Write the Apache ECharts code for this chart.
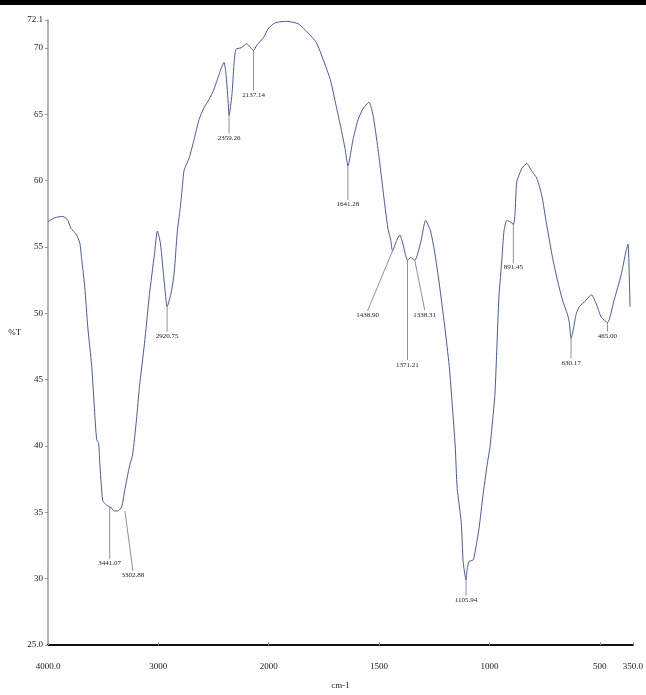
<!DOCTYPE html>
<html>
<head>
<meta charset="utf-8">
<title>FTIR spectrum</title>
<script src="https://cdn.jsdelivr.net/npm/echarts@6/dist/echarts.min.js"></script>
<style>
  html, body { margin: 0; padding: 0; background: #fff; width: 100%; height: 100%; overflow: hidden; }
  #chart { width: 100vw; height: 100vh; }
</style>
</head>
<body>
<div id="chart"></div>
<script>
// spectrum (wavenumber cm-1 / %T)
const wavenumbers = [
  4000, 3937, 3865, 3820, 3793, 3748, 3712, 3694, 3667, 3640, 3604, 3577, 3559, 3541, 3532,
  3505, 3478, 3441, 3420, 3400, 3369, 3333, 3306, 3261, 3234, 3198, 3171, 3126, 3081, 3036,
  3009, 2982, 2946, 2920, 2883, 2856, 2829, 2802, 2784, 2766, 2721, 2676, 2631, 2586, 2541,
  2495, 2450, 2405, 2387, 2369, 2359, 2333, 2315, 2297, 2252, 2198, 2137, 2108, 2045, 2000,
  1969, 1919, 1865, 1820, 1784, 1753, 1721, 1694, 1672, 1654, 1641, 1618, 1595, 1573, 1546,
  1528, 1505, 1483, 1460, 1447, 1439, 1420, 1406, 1393, 1371, 1357, 1338, 1312, 1289, 1267,
  1249, 1227, 1204, 1182, 1168, 1155, 1146, 1128, 1119, 1106, 1101, 1092, 1074, 1065, 1047,
  1029, 1011, 997, 984, 975, 966, 957, 943, 934, 921, 907, 891, 884, 876, 853,
  831, 808, 786, 763, 741, 714, 692, 669, 646, 638, 630, 606, 592, 561, 538,
  516, 493, 465, 435, 403, 381, 372, 363
];
const transmittance = [
  56.9, 57.2, 57.3, 57.0, 56.4, 56.0, 55.3, 54.0, 52.0, 49.0, 46.0, 42.5, 40.5, 40.2, 38.9,
  35.9, 35.6, 35.4, 35.3, 35.1, 35.1, 35.4, 36.6, 38.5, 39.3, 42.0, 44.5, 47.7, 51.4, 54.4,
  56.2, 55.3, 52.3, 50.5, 51.6, 53.1, 56.1, 57.9, 59.4, 60.8, 61.7, 63.1, 64.6, 65.5, 66.1,
  66.9, 68.0, 68.9, 68.0, 66.1, 64.9, 66.5, 68.7, 69.9, 70.0, 70.3, 69.8, 70.2, 70.8, 71.5,
  71.9, 72.0, 71.8, 71.1, 70.4, 69.1, 67.6, 65.6, 63.9, 62.4, 61.1, 63.1, 64.6, 65.4, 65.9,
  65.0, 62.4, 59.4, 56.4, 55.5, 54.7, 55.5, 55.9, 55.3, 54.0, 54.2, 54.0, 55.3, 57.0, 56.2,
  54.7, 52.2, 49.2, 46.0, 43.0, 40.0, 36.8, 34.3, 31.3, 29.9, 30.7, 31.3, 31.4, 32.0, 33.8,
  36.3, 38.5, 40.0, 42.2, 43.9, 47.5, 51.2, 54.2, 56.2, 57.0, 56.9, 56.7, 57.5, 59.9, 60.9,
  61.3, 60.7, 60.2, 58.9, 56.7, 54.2, 52.5, 51.0, 49.9, 49.3, 48.1, 50.0, 50.5, 51.0, 51.4,
  50.7, 49.7, 49.3, 51.0, 52.9, 54.7, 55.2, 50.5
];

// labelled peaks
const peakWavenumbers = [3441.07, 3302.88, 2920.75, 2359.26, 2137.14, 1641.28, 1438.90, 1371.21, 1338.31, 1105.94, 891.45, 630.17, 465.00];
const peakTransmittance = [35.4, 35.1, 50.5, 64.9, 69.8, 61.1, 54.7, 54.0, 54.0, 29.9, 56.8, 48.1, 49.3];
const peakLabels = ['3441.07', '3302.88', '2920.75', '2359.26', '2137.14', '1641.28', '1438.90', '1371.21', '1338.31', '1105.94', '891.45', '630.17', '465.00'];
// leader line end, px from the peak
const peakLeaderOffsets = [[0, 52], [8, 60], [0, 25], [0, 18], [0, 40], [0, 34], [-25, 60], [0, 100], [10, 50], [0, 16], [0, 40], [0, 20], [0, 9]];

// axis ticks
const xTickValues = [4000, 3000, 2000, 1500, 1000, 500, 350];
const xTickLabels = ['4000.0', '3000', '2000', '1500', '1000', '500', '350.0'];
const yTickValues = [25, 30, 35, 40, 45, 50, 55, 60, 65, 70, 72.1];
const yTickLabels = ['25.0', '30', '35', '40', '45', '50', '55', '60', '65', '70', '72.1'];

// above 2000 cm-1 the scale is halved (usual FTIR layout)
function toAxis(w) {
    return w <= 2000 ? w : 2000 + (w - 2000) / 2;
}

const chart = echarts.init(document.getElementById('chart'));
const serif = '"Liberation Serif", "DejaVu Serif", serif';

const xAxisTicks = xTickValues.map(toAxis);

const option = {
    animation: false,
    backgroundColor: '#fff',
    graphic: [{
        type: 'rect',
        left: 0, top: 0,
        shape: { width: 646, height: 5 },
        style: { fill: '#000' }
    }],
    grid: { left: 48, right: 9, top: 20, bottom: 44 },
    xAxis: {
        type: 'value',
        inverse: true,
        min: toAxis(350),
        max: toAxis(4000),
        name: 'cm-1',
        nameLocation: 'middle',
        nameGap: 36,
        nameTextStyle: { fontFamily: serif, fontSize: 9, color: '#222' },
        axisLine: { lineStyle: { color: '#111', width: 2 } },
        axisTick: { show: true, customValues: xAxisTicks, length: 3, inside: true, lineStyle: { color: '#999' } },
        axisLabel: {
            customValues: xAxisTicks,
            margin: 17,
            fontFamily: serif, fontSize: 9, color: '#222',
            formatter: v => {
                const i = xAxisTicks.findIndex(t => Math.abs(t - v) < 0.01);
                return i >= 0 ? xTickLabels[i] : '';
            }
        },
        splitLine: { show: false }
    },
    yAxis: {
        type: 'value',
        min: 25,
        max: 72.1,
        name: '%T',
        nameLocation: 'middle',
        nameRotate: 0,
        nameGap: 22,
        nameTextStyle: { fontFamily: serif, fontSize: 9, color: '#222' },
        axisLine: { show: true, lineStyle: { color: '#9a9a9a', width: 1.5 } },
        axisTick: { show: true, customValues: yTickValues, length: 3, lineStyle: { color: '#999' } },
        axisLabel: {
            customValues: yTickValues,
            margin: 5,
            fontFamily: serif, fontSize: 9, color: '#222',
            formatter: v => {
                const i = yTickValues.findIndex(t => Math.abs(t - v) < 0.01);
                return i >= 0 ? yTickLabels[i] : '';
            }
        },
        splitLine: { show: false }
    },
    series: [
        {
            type: 'line',
            data: wavenumbers.map((w, i) => [toAxis(w), transmittance[i]]),
            showSymbol: false,
            smooth: 0.2,
            lineStyle: { color: '#4b5a9e', width: 1 },
            z: 3
        },
        {
            type: 'custom',
            data: peakWavenumbers.map((w, i) => [toAxis(w), peakTransmittance[i]]),
            renderItem(params, api) {
                const i = params.dataIndex;
                const pt = api.coord([api.value(0), api.value(1)]);
                const off = peakLeaderOffsets[i];
                const end = [pt[0] + off[0], pt[1] + off[1]];
                return {
                    type: 'group',
                    children: [
                        {
                            type: 'line',
                            shape: { x1: pt[0], y1: pt[1], x2: end[0], y2: end[1] },
                            style: { stroke: '#8c90a8', lineWidth: 1 }
                        },
                        {
                            type: 'text',
                            x: end[0],
                            y: end[1] + 1,
                            style: {
                                text: peakLabels[i],
                                fill: '#222',
                                font: '7px ' + serif,
                                align: 'center',
                                verticalAlign: 'top'
                            }
                        }
                    ]
                };
            },
            z: 2
        }
    ]
};

chart.setOption(option);
</script>
</body>
</html>
